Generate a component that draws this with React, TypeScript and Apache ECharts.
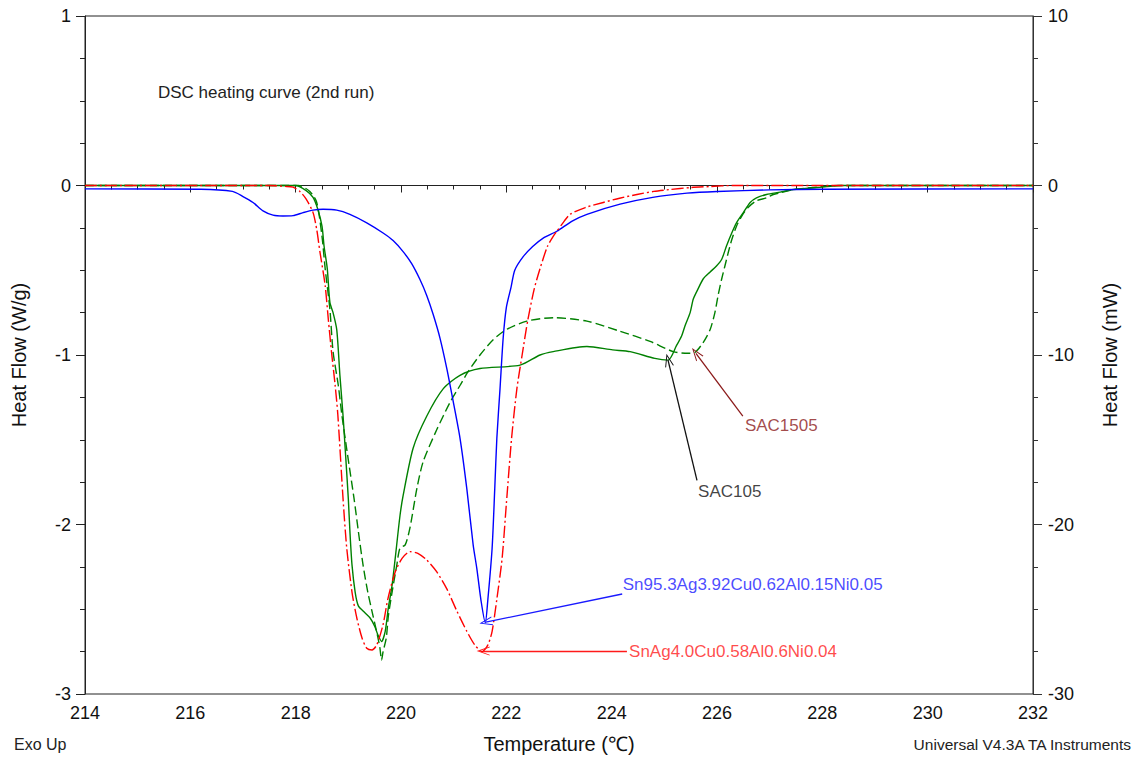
import React, { useEffect, useRef } from "react";
import * as echarts from "echarts";

// ---- axis ranges / tick settings ----
const xRange = [214, 232];
const xStep = 2;
const yLeftRange = [-3, 1];
const yLeftStep = 1;
const yRightRange = [-30, 10];
const yRightStep = 10;

// ---- series data: [temperature (°C), heat flow (W/g)] ----
const sac105: number[][] = [
  [214, 0], [218.0, 0], [218.2, -0.03], [218.33, -0.07], [218.42, -0.14], [218.5, -0.24],
  [218.54, -0.36], [218.6, -0.49], [218.65, -0.69], [218.71, -0.75], [218.78, -0.85],
  [218.84, -1.12], [218.9, -1.36], [218.95, -1.6], [219.0, -1.85], [219.03, -2.04],
  [219.07, -2.24], [219.13, -2.4], [219.19, -2.48], [219.28, -2.51], [219.41, -2.55],
  [219.5, -2.6], [219.56, -2.65], [219.63, -2.69], [219.7, -2.63], [219.76, -2.49],
  [219.83, -2.36], [219.89, -2.2], [219.98, -1.95], [220.04, -1.83], [220.23, -1.55],
  [220.49, -1.36], [220.8, -1.2], [221.12, -1.12], [221.5, -1.08], [222.26, -1.06],
  [222.64, -1.0], [222.89, -0.98], [223.53, -0.95], [224.02, -0.97], [224.35, -0.98],
  [224.82, -1.02], [225.07, -1.03], [225.23, -0.945], [225.33, -0.886], [225.39, -0.83],
  [225.49, -0.75], [225.55, -0.67], [225.64, -0.61], [225.74, -0.55], [225.87, -0.51],
  [225.99, -0.475], [226.09, -0.435], [226.18, -0.357], [226.28, -0.28], [226.37, -0.22],
  [226.5, -0.16], [226.63, -0.1], [226.75, -0.073], [226.94, -0.053], [227.2, -0.039],
  [227.45, -0.024], [227.9, -0.012], [228.4, 0], [232, 0],
];

const sac1505: number[][] = [
  [214, 0], [218.05, 0], [218.27, -0.035], [218.4, -0.1], [218.5, -0.3], [218.56, -0.49],
  [218.65, -0.73], [218.71, -0.98], [218.81, -1.18], [218.88, -1.36], [219.0, -1.62],
  [219.11, -1.85], [219.19, -2.04], [219.28, -2.24], [219.37, -2.4], [219.47, -2.54],
  [219.55, -2.65], [219.6, -2.73], [219.63, -2.8], [219.66, -2.75], [219.72, -2.67],
  [219.76, -2.54], [219.83, -2.4], [219.92, -2.24], [219.98, -2.14], [220.08, -2.12],
  [220.17, -2.02], [220.3, -1.79], [220.42, -1.63], [220.68, -1.44], [220.93, -1.28],
  [221.12, -1.18], [221.27, -1.1], [221.5, -1.0], [221.75, -0.91], [222.0, -0.85],
  [222.39, -0.8], [222.89, -0.78], [223.53, -0.8], [224.16, -0.86], [224.73, -0.92],
  [225.17, -0.98], [225.45, -0.99], [225.58, -0.985], [225.74, -0.925], [225.87, -0.85],
  [225.96, -0.75], [226.02, -0.65], [226.09, -0.55], [226.15, -0.475], [226.21, -0.4],
  [226.28, -0.32], [226.37, -0.24], [226.47, -0.18], [226.59, -0.13], [226.75, -0.09],
  [226.94, -0.073], [227.07, -0.053], [227.2, -0.043], [227.44, -0.024], [227.9, -0.01],
  [228.3, 0], [232, 0],
];

const snAgCuAlNi005: number[][] = [
  [214, -0.02], [216.2, -0.022], [216.8, -0.035], [217.0, -0.065], [217.19, -0.1],
  [217.38, -0.15], [217.57, -0.175], [217.76, -0.18], [217.95, -0.178], [218.14, -0.16],
  [218.33, -0.145], [218.52, -0.14], [218.78, -0.145], [219.03, -0.17], [219.35, -0.22],
  [219.66, -0.28], [219.85, -0.325], [220.04, -0.39], [220.2, -0.46], [220.36, -0.555],
  [220.49, -0.65], [220.61, -0.76], [220.74, -0.9], [220.87, -1.08], [220.97, -1.24],
  [221.12, -1.49], [221.25, -1.79], [221.37, -2.12], [221.44, -2.26], [221.52, -2.45],
  [221.6, -2.58], [221.65, -2.44], [221.73, -2.14], [221.78, -1.79], [221.82, -1.49],
  [221.88, -1.2], [221.94, -0.9], [222.0, -0.72], [222.09, -0.6], [222.16, -0.5],
  [222.32, -0.42], [222.5, -0.36], [222.7, -0.31], [222.96, -0.27], [223.25, -0.21],
  [223.53, -0.17], [224.16, -0.11], [224.78, -0.07], [225.43, -0.045], [226.0, -0.035],
  [227.0, -0.026], [228.0, -0.022], [232, -0.02],
];

const snAgCuAlNi004: number[][] = [
  [214, 0], [217.5, 0], [217.8, -0.005], [217.95, -0.01], [218.08, -0.035], [218.2, -0.08],
  [218.33, -0.16], [218.4, -0.26], [218.46, -0.39], [218.56, -0.59], [218.62, -0.79],
  [218.68, -0.98], [218.75, -1.18], [218.8, -1.35], [218.9, -1.85], [218.97, -2.14],
  [219.07, -2.4], [219.16, -2.55], [219.26, -2.67], [219.35, -2.73], [219.45, -2.74],
  [219.54, -2.71], [219.66, -2.59], [219.75, -2.44], [219.89, -2.28], [220.02, -2.2],
  [220.17, -2.16], [220.32, -2.17], [220.49, -2.21], [220.68, -2.28], [220.87, -2.38],
  [221.06, -2.51], [221.25, -2.63], [221.4, -2.71], [221.54, -2.75], [221.65, -2.71],
  [221.73, -2.63], [221.82, -2.44], [221.92, -2.2], [222.0, -1.88], [222.1, -1.49],
  [222.2, -1.2], [222.3, -1.0], [222.41, -0.79], [222.53, -0.61], [222.64, -0.49],
  [222.78, -0.36], [222.89, -0.3], [222.96, -0.27], [223.1, -0.21], [223.21, -0.17],
  [223.5, -0.13], [223.84, -0.1], [224.15, -0.075], [224.48, -0.053], [224.8, -0.035],
  [225.1, -0.024], [225.5, -0.012], [225.87, -0.006], [226.3, 0], [232, 0],
];

// ---- annotations: label text, label anchor, arrow start, arrow tip ----
const annoTexts = [
  "Sn95.3Ag3.92Cu0.62Al0.15Ni0.05",
  "SnAg4.0Cu0.58Al0.6Ni0.04",
  "SAC105",
  "SAC1505",
];
const annoLabelAt = [
  [224.21, -2.353],
  [224.33, -2.747],
  [225.64, -1.806],
  [226.53, -1.418],
];
const annoArrowFrom = [
  [224.2, -2.41],
  [224.29, -2.747],
  [225.62, -1.74],
  [226.49, -1.36],
];
const annoArrowTo = [
  [221.61, -2.576],
  [221.56, -2.747],
  [225.07, -1.03],
  [225.6, -0.99],
];
const annoColors = ["#1a1aff", "#ff1a1a", "#111111", "#8b1a1a"];

const FONT = "'Liberation Sans', Arial, Helvetica, sans-serif";
const CHEVRON = "path://M5,0L10,12L8.9,12L5,2.6L1.1,12L0,12Z";

export default function App() {
  const ref = useRef<HTMLDivElement>(null);

  useEffect(() => {
    document.body.style.margin = "0";
    if (!ref.current) return;
    const chart = echarts.init(ref.current, null, { renderer: "svg" });

    const lineBase = {
      type: "line" as const,
      showSymbol: false,
      symbol: "none",
      smooth: 0.25,
      silent: true,
      xAxisIndex: 0,
      yAxisIndex: 0,
    };

    const option: any = {
      animation: false,
      backgroundColor: "#ffffff",
      textStyle: { fontFamily: FONT },
      grid: {
        left: 85,
        right: 102,
        top: 16,
        bottom: 63,
        show: true,
        borderColor: "#222",
        borderWidth: 1,
        backgroundColor: "transparent",
      },
      xAxis: [
        {
          type: "value",
          min: xRange[0],
          max: xRange[1],
          interval: xStep,
          name: "Temperature (℃)",
          nameLocation: "middle",
          nameGap: 40,
          nameTextStyle: { fontSize: 20, color: "#111", fontFamily: FONT },
          axisLine: { show: true, lineStyle: { color: "#222", width: 1 } },
          axisTick: { show: true, length: 7, lineStyle: { color: "#222" } },
          minorTick: { show: true, splitNumber: 4, length: 4, lineStyle: { color: "#222" } },
          splitLine: { show: false },
          axisLabel: { fontSize: 18, color: "#111", margin: 10, fontFamily: FONT },
        },
      ],
      yAxis: [
        {
          type: "value",
          position: "left",
          min: yLeftRange[0],
          max: yLeftRange[1],
          interval: yLeftStep,
          name: "Heat Flow (W/g)",
          nameLocation: "middle",
          nameGap: 56,
          nameRotate: 90,
          nameTextStyle: { fontSize: 20, color: "#111", fontFamily: FONT },
          axisLine: { show: true, lineStyle: { color: "#222", width: 1 } },
          axisTick: { show: true, length: 9, lineStyle: { color: "#222" } },
          minorTick: { show: true, splitNumber: 4, length: 5, lineStyle: { color: "#222" } },
          splitLine: { show: false },
          axisLabel: { fontSize: 18, color: "#111", margin: 14, fontFamily: FONT },
        },
        {
          type: "value",
          position: "right",
          min: yRightRange[0],
          max: yRightRange[1],
          interval: yRightStep,
          name: "Heat Flow (mW)",
          nameLocation: "middle",
          nameGap: 67,
          nameRotate: 90,
          nameTextStyle: { fontSize: 20, color: "#111", fontFamily: FONT },
          axisLine: { show: true, lineStyle: { color: "#333", width: 1 } },
          axisTick: { show: true, length: 9, lineStyle: { color: "#333" } },
          minorTick: { show: true, splitNumber: 4, length: 5, lineStyle: { color: "#333" } },
          splitLine: { show: false },
          axisLabel: { fontSize: 18, color: "#111", margin: 15, fontFamily: FONT },
        },
      ],
      series: [
        {
          ...lineBase,
          name: "SAC1505",
          data: sac1505,
          lineStyle: { color: "#008000", width: 1.4, type: [9, 4] },
        },
        {
          ...lineBase,
          name: "SAC105",
          data: sac105,
          lineStyle: { color: "#008000", width: 1.4, type: "solid" },
        },
        {
          ...lineBase,
          name: "Sn95.3Ag3.92Cu0.62Al0.15Ni0.05",
          data: snAgCuAlNi005,
          lineStyle: { color: "#0000ff", width: 1.4, type: "solid" },
        },
        {
          ...lineBase,
          name: "SnAg4.0Cu0.58Al0.6Ni0.04",
          data: snAgCuAlNi004,
          lineStyle: { color: "#ff0000", width: 1.4, type: [12, 3, 2, 3] },
        },
        {
          type: "scatter",
          name: "annotations",
          silent: true,
          symbolSize: 0,
          xAxisIndex: 0,
          yAxisIndex: 0,
          data: annoTexts.map((t, i) => ({
            name: t,
            value: annoLabelAt[i],
            label: { color: annoColors[i] },
          })),
          label: {
            show: true,
            position: "right",
            distance: 0,
            fontSize: 17,
            fontFamily: FONT,
            formatter: (p: any) => p.name,
          },
          markLine: {
            silent: true,
            animation: false,
            precision: 4,
            label: { show: false },
            symbol: ["none", CHEVRON],
            symbolSize: [9, 13],
            data: annoTexts.map((_, i) => [
              { coord: annoArrowFrom[i], lineStyle: { color: annoColors[i], width: 1.3, type: "solid" } },
              { coord: annoArrowTo[i] },
            ]),
          },
        },
      ],
      graphic: [
        {
          type: "text",
          left: 158,
          top: 84,
          style: { text: "DSC heating curve (2nd run)", fontSize: 17, fill: "#222", fontFamily: FONT },
        },
        {
          type: "text",
          left: 14,
          top: 736,
          style: { text: "Exo Up", fontSize: 16, fill: "#222", fontFamily: FONT },
        },
        {
          type: "text",
          right: 2,
          top: 736,
          style: { text: "Universal V4.3A TA Instruments", fontSize: 15.5, fill: "#222", fontFamily: FONT },
        },
      ],
    };

    chart.setOption(option);
    return () => chart.dispose();
  }, []);

  return <div ref={ref} style={{ width: 1135, height: 759 }} />;
}
